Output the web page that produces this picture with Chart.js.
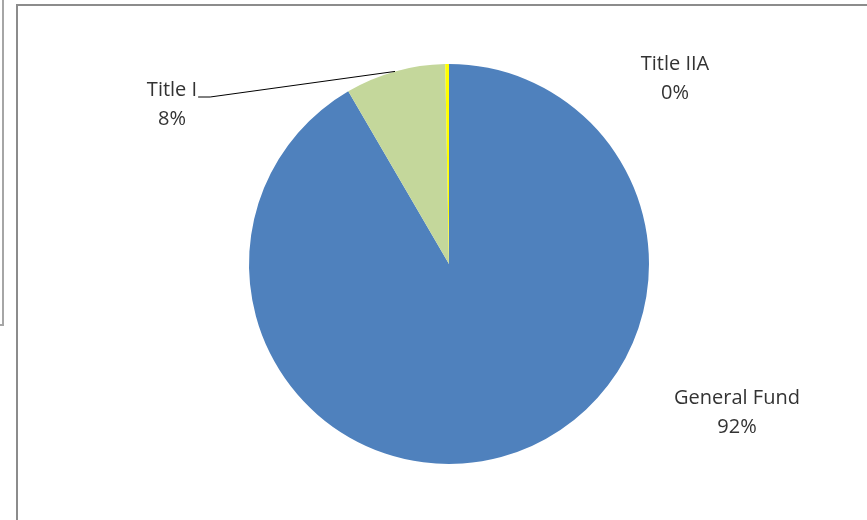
<!DOCTYPE html>
<html>
<head>
<meta charset="utf-8">
<script src="https://cdn.jsdelivr.net/npm/chart.js@4.4.0/dist/chart.umd.min.js"></script>
<style>
  body { margin: 0; background: #fff; }
  #wrap { position: relative; width: 867px; height: 520px; overflow: hidden; }
  #outer { position: absolute; left: -20px; top: -5px; width: 22px; height: 329px;
           border-right: 2px solid #a6a6a6; border-bottom: 2px solid #a6a6a6; }
  #frame { position: absolute; left: 16px; top: 4px; width: 900px; height: 600px;
           border-left: 2px solid #8c8c8c; border-top: 2px solid #8c8c8c; }
  canvas { position: absolute; left: 0; top: 0; }
</style>
</head>
<body>
<div id="wrap">
  <div id="outer"></div>
  <div id="frame"></div>
  <canvas id="pie" width="867" height="520"></canvas>
</div>
<script>
const labels = ['General Fund', 'Title I', 'Title IIA'];
const values = [91.6, 8.1, 0.3];
const colors = ['#4f81bd', '#c4d79b', '#ffff00'];

// label anchor (center x, first baseline y) in units of radius from the pie center
const labelSpots = [[1.44, 0.70], [-1.385, -0.84], [1.13, -0.97]];

const total = values.reduce((a, b) => a + b, 0);

const pieLabels = {
  id: 'pieLabels',
  afterDatasetsDraw(chart) {
    const ctx = chart.ctx;
    const arcs = chart.getDatasetMeta(0).data;
    ctx.save();
    ctx.font = '20px "Open Sans", sans-serif';
    ctx.fillStyle = '#333333';
    ctx.textAlign = 'center';
    ctx.textBaseline = 'alphabetic';
    arcs.forEach((arc, i) => {
      const r = arc.outerRadius;
      const x = arc.x + labelSpots[i][0] * r;
      const y = arc.y + labelSpots[i][1] * r;
      const pct = Math.round(values[i] / total * 100) + '%';
      ctx.fillText(labels[i], x, y);
      ctx.fillText(pct, x, y + 29);
      if (i === 1) {
        // leader line for the small slice
        const w = ctx.measureText(labels[i]).width;
        const mid = (arc.startAngle + arc.endAngle) / 2;
        const ex = arc.x + Math.cos(mid) * r;
        const ey = arc.y + Math.sin(mid) * r;
        ctx.strokeStyle = '#000';
        ctx.lineWidth = 1;
        ctx.beginPath();
        ctx.moveTo(x + w / 2 + 1, y + 1);
        ctx.lineTo(x + w / 2 + 13, y + 1);
        ctx.lineTo(ex, ey);
        ctx.stroke();
      }
    });
    ctx.restore();
  }
};

new Chart(document.getElementById('pie'), {
  type: 'pie',
  data: {
    labels: labels,
    datasets: [{
      data: values,
      backgroundColor: colors,
      borderWidth: 0
    }]
  },
  options: {
    responsive: false,
    animation: false,
    layout: { padding: { left: 249, right: 218, top: 64, bottom: 56 } },
    plugins: {
      legend: { display: false },
      tooltip: { enabled: false }
    }
  },
  plugins: [pieLabels]
});
</script>
</body>
</html>
